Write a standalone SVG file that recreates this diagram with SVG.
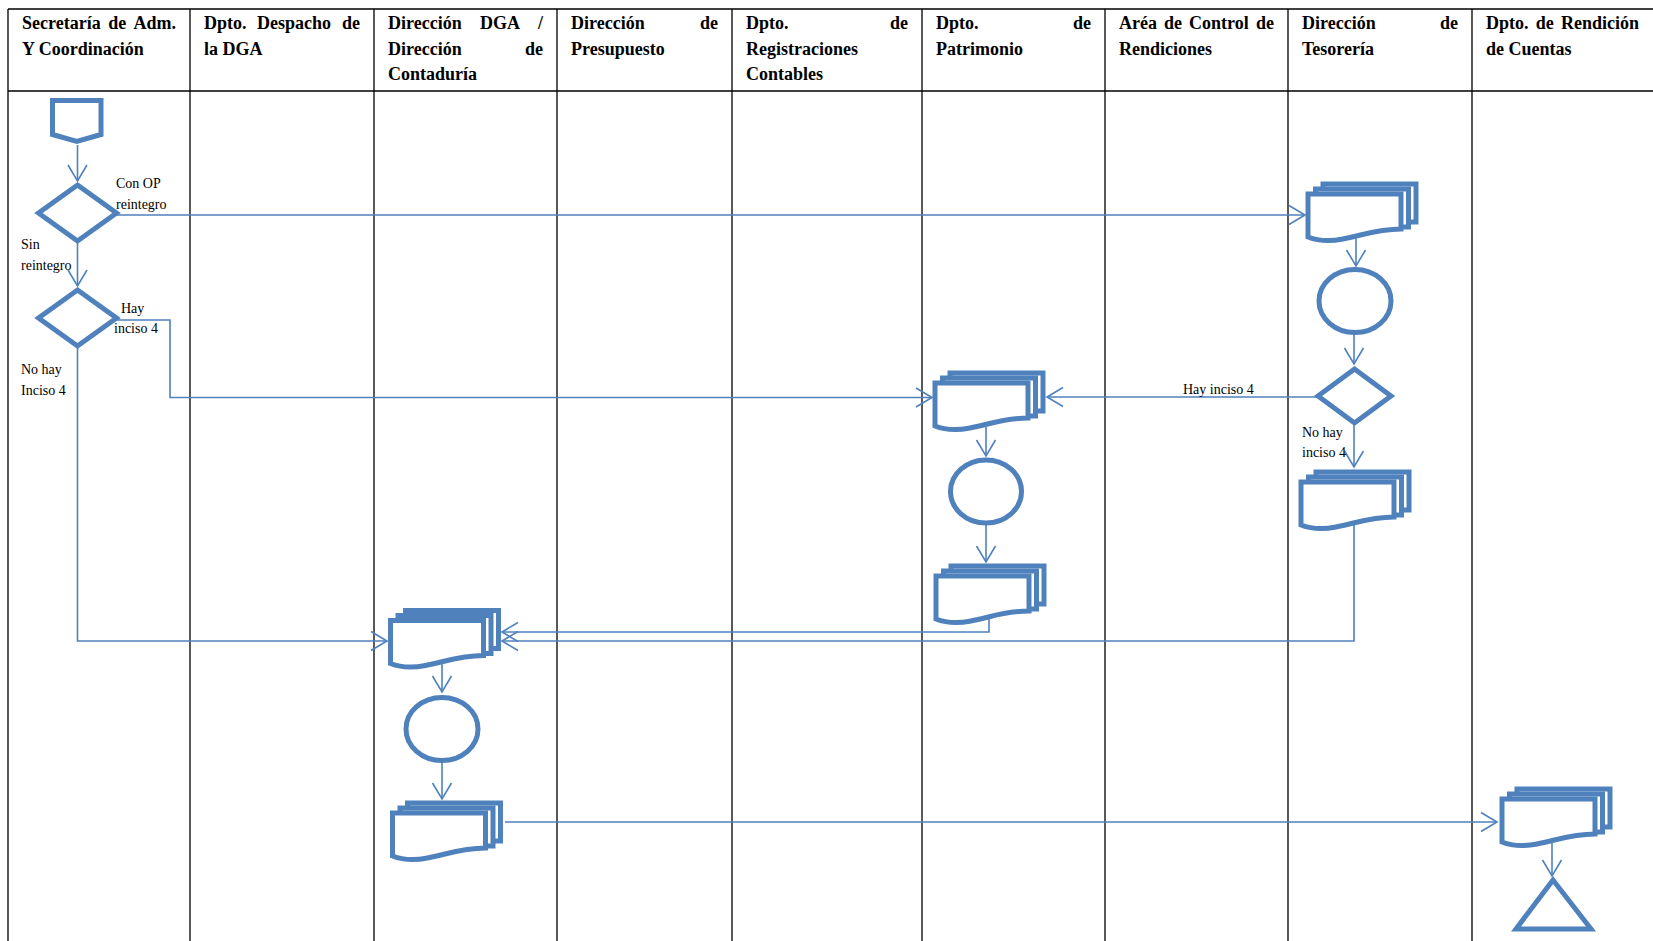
<svg xmlns="http://www.w3.org/2000/svg" width="1653" height="941" viewBox="0 0 1653 941">
<style>
.hdr{font-family:"Liberation Serif","Times New Roman",serif;font-weight:bold;font-size:18px;fill:#000}
.lbl{font-family:"Liberation Serif","Times New Roman",serif;font-size:14px;fill:#000}
.shape{fill:#fff;stroke:#4F81BD;stroke-width:5;stroke-linejoin:miter}
.conn{fill:none;stroke:#4F81BD;stroke-width:1.6;marker-end:url(#arr)}
.grid{fill:none;stroke:#000;stroke-width:1.3}
</style>
<defs>
<marker id="arr" markerUnits="userSpaceOnUse" markerWidth="22" markerHeight="24" viewBox="-19 -12 22 24" refX="0" refY="0" orient="auto">
<path d="M-16,-9.5 L0,0 L-16,9.5" fill="none" stroke="#4F81BD" stroke-width="1.6"/>
</marker>
<g id="mdoc">
<rect class="shape" x="15" y="-10" width="93" height="38"/>
<rect class="shape" x="7.5" y="-5" width="93" height="38"/>
<path class="shape" d="M0,0 H93 V35 C70,35 55,41 35,45 C20,48 10,47 0,43 Z"/>
</g>
</defs>
<rect width="1653" height="941" fill="#fff"/>
<g id="table">
<path class="grid" d="M8,9 H1653 M8,91 H1653 M8,9 V941 M190,9 V941 M374,9 V941 M557,9 V941 M732,9 V941 M922,9 V941 M1105,9 V941 M1288,9 V941 M1472,9 V941"/>
</g>
<g id="headers" class="hdr">
<text x="22" y="28.5">Secretaría</text><text x="108.3" y="28.5">de</text><text x="176" y="28.5" text-anchor="end">Adm.</text>
<text x="22" y="54.5">Y Coordinación</text>
<text x="204" y="28.5">Dpto.</text><text x="257" y="28.5">Despacho</text><text x="360" y="28.5" text-anchor="end">de</text>
<text x="204" y="54.5">la DGA</text>
<text x="388" y="28.5">Dirección</text><text x="480" y="28.5">DGA</text><text x="543" y="28.5" text-anchor="end">/</text>
<text x="388" y="54.5">Dirección</text><text x="543" y="54.5" text-anchor="end">de</text>
<text x="388" y="80">Contaduría</text>
<text x="571" y="28.5">Dirección</text><text x="718" y="28.5" text-anchor="end">de</text>
<text x="571" y="54.5">Presupuesto</text>
<text x="746" y="28.5">Dpto.</text><text x="908" y="28.5" text-anchor="end">de</text>
<text x="746" y="54.5">Registraciones</text>
<text x="746" y="80">Contables</text>
<text x="936" y="28.5">Dpto.</text><text x="1091" y="28.5" text-anchor="end">de</text>
<text x="936" y="54.5">Patrimonio</text>
<text x="1119" y="28.5">Aréa</text><text x="1164" y="28.5">de</text><text x="1189" y="28.5">Control</text><text x="1274" y="28.5" text-anchor="end">de</text>
<text x="1119" y="54.5">Rendiciones</text>
<text x="1302" y="28.5">Dirección</text><text x="1458" y="28.5" text-anchor="end">de</text>
<text x="1302" y="54.5">Tesorería</text>
<text x="1486" y="28.5">Dpto.</text><text x="1535.8" y="28.5">de</text><text x="1639" y="28.5" text-anchor="end">Rendición</text>
<text x="1486" y="54.5">de Cuentas</text>
</g>
<g id="connectors">
<path class="conn" d="M77.5,145 V181"/>
<path class="conn" d="M77.5,241 V286"/>
<path class="conn" d="M116,215 H1305"/>
<path class="conn" d="M116,320 H170 V397.5 H932"/>
<path class="conn" d="M77.5,346 V641 H387"/>
<path class="conn" d="M1356,237 V266"/>
<path class="conn" d="M1354,333 V364"/>
<path class="conn" d="M1318,397 H1047"/>
<path class="conn" d="M1354,424 V467"/>
<path class="conn" d="M1354,519 V641 H502"/>
<path class="conn" d="M986,421 V456"/>
<path class="conn" d="M986,524 V562"/>
<path class="conn" d="M989,618 V632 H502"/>
<path class="conn" d="M442,660 V692"/>
<path class="conn" d="M442,762 V799"/>
<path class="conn" d="M505,822 H1497"/>
<path class="conn" d="M1552,840 V876"/>
</g>
<g id="labels" class="lbl">
<text x="116" y="188">Con OP</text><text x="116" y="209">reintegro</text>
<text x="21" y="249">Sin</text><text x="21" y="270">reintegro</text>
<text x="121" y="312.5">Hay</text><text x="114" y="332.5">inciso 4</text>
<text x="21" y="373.5">No hay</text><text x="21" y="394.5">Inciso 4</text>
<text x="1183" y="394">Hay inciso 4</text>
<text x="1302" y="436.5">No hay</text><text x="1302" y="456.5">inciso 4</text>
</g>
<g id="start"><path class="shape" d="M52.5,100.5 H101 V134.5 L76.8,141.5 L52.5,134.5 Z"/></g>
<g id="dec1"><polygon class="shape" points="77.5,185 116.5,213 77.5,241 38.5,213"/></g>
<g id="dec2"><polygon class="shape" points="77.5,290 116.5,318 77.5,346 38.5,318"/></g>
<g id="tes-doc1"><use href="#mdoc" transform="translate(1308,194)"/></g>
<g id="tes-proc"><ellipse class="shape" cx="1355" cy="301" rx="36" ry="31.5"/></g>
<g id="tes-dec"><polygon class="shape" points="1354.5,369 1391,396 1354.5,423 1318,396"/></g>
<g id="tes-doc2"><use href="#mdoc" transform="translate(1301,482)"/></g>
<g id="pat-doc1"><use href="#mdoc" transform="translate(935,383)"/></g>
<g id="pat-proc"><ellipse class="shape" cx="986" cy="491.5" rx="35.5" ry="31.5"/></g>
<g id="pat-doc2"><use href="#mdoc" transform="translate(936,576)"/></g>
<g id="con-doc1"><use href="#mdoc" transform="translate(390.5,620.5)"/></g>
<g id="con-proc"><ellipse class="shape" cx="442" cy="729" rx="36" ry="31.5"/></g>
<g id="con-doc2"><use href="#mdoc" transform="translate(392.5,813)"/></g>
<g id="ren-doc"><use href="#mdoc" transform="translate(1502,799)"/></g>
<g id="ren-end"><polygon class="shape" points="1553,880 1516,929 1591,929"/></g>
</svg>
